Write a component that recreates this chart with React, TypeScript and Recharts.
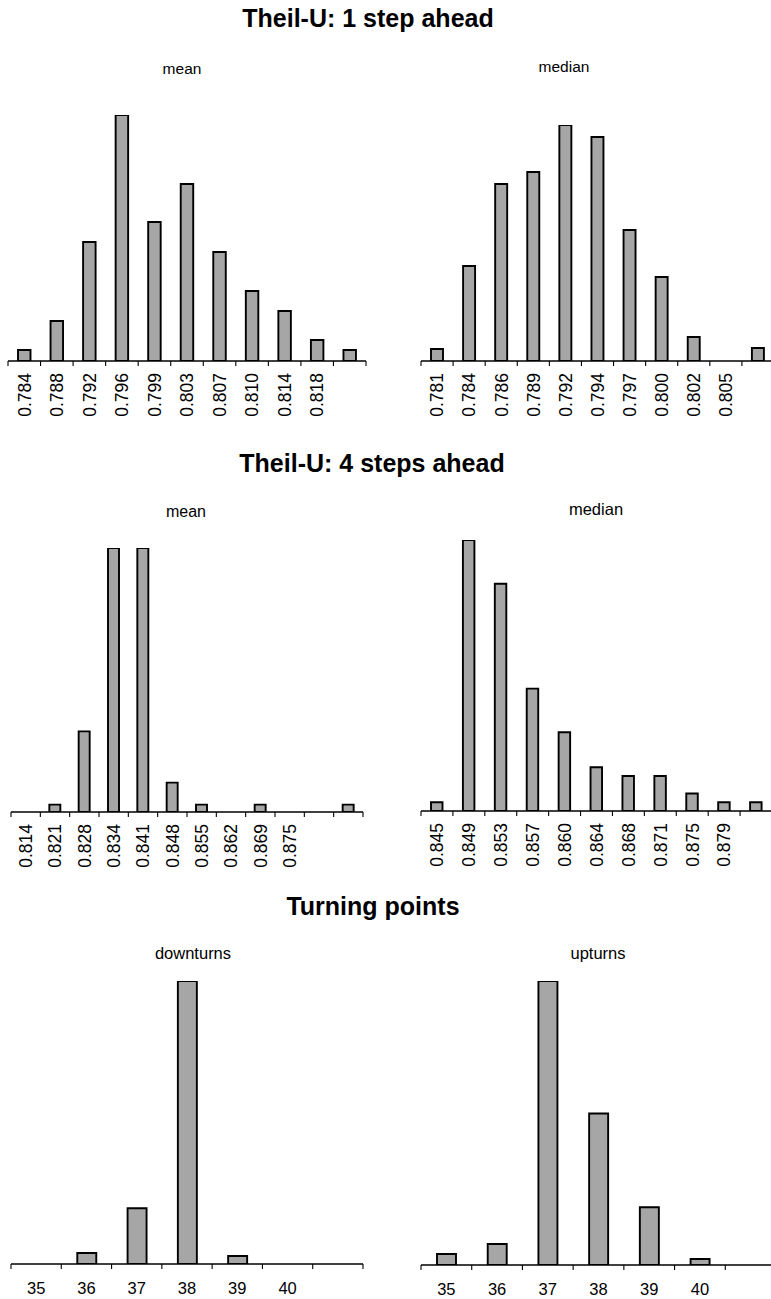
import React from 'react';
import { BarChart, Bar, XAxis, YAxis } from 'recharts';

// bin labels (last bin of each panel has no label in the original)
const oneStepMeanBins = ['0.784', '0.788', '0.792', '0.796', '0.799', '0.803', '0.807', '0.810', '0.814', '0.818', ''];
const oneStepMeanFreq = [11, 40, 119, 246, 139, 177, 109, 70, 50, 21, 11];

const oneStepMedianBins = ['0.781', '0.784', '0.786', '0.789', '0.792', '0.794', '0.797', '0.800', '0.802', '0.805', ''];
const oneStepMedianFreq = [12, 95, 177, 189, 236, 224, 131, 84, 24, 0, 13];

const fourStepMeanBins = ['0.814', '0.821', '0.828', '0.834', '0.841', '0.848', '0.855', '0.862', '0.869', '0.875', '', ''];
const fourStepMeanFreq = [0, 1, 11, 36, 36, 4, 1, 0, 1, 0, 0, 1];

const fourStepMedianBins = ['0.845', '0.849', '0.853', '0.857', '0.860', '0.864', '0.868', '0.871', '0.875', '0.879', ''];
const fourStepMedianFreq = [1, 31, 26, 14, 9, 5, 4, 4, 2, 1, 1];

const downturnBins = ['35', '36', '37', '38', '39', '40', ''];
const downturnFreq = [0, 11, 56, 284, 8, 0, 0];

const upturnBins = ['35', '36', '37', '38', '39', '40', ''];
const upturnFreq = [11, 21, 285, 152, 58, 6, 0];

const FONT = '"Liberation Sans", Arial, Helvetica, sans-serif';

interface HistProps {
  bins: string[];
  freq: number[];
  axisStart: number;
  axisEnd: number;
  baseline: number;
  maxTop: number;
  barSize: number;
  rotated?: boolean;
}

const Histogram = ({ bins, freq, axisStart, axisEnd, baseline, maxTop, barSize, rotated }: HistProps) => {
  const data = bins.map((bin, i) => ({ bin, freq: freq[i] }));
  const axisLen = axisEnd - axisStart;
  const band = axisLen / bins.length;
  const plotH = baseline - maxTop;
  const axisH = rotated ? 62 : 50;
  const pad = 4;
  const yMax = Math.max(...freq);

  const renderTick = (props: any) => {
    const { x, y, payload, index } = props;
    const left = x - band / 2;
    const ly = y + 12;
    return (
      <g>
        <line x1={left} y1={y} x2={left} y2={y + 5} stroke="#000" strokeWidth={1.1} />
        {index === bins.length - 1 && (
          <line x1={x + band / 2} y1={y} x2={x + band / 2} y2={y + 5} stroke="#000" strokeWidth={1.1} />
        )}
        {rotated ? (
          <text
            x={x}
            y={ly}
            dy="0.36em"
            textAnchor="end"
            transform={`rotate(-90, ${x}, ${ly})`}
            fontSize={17.5}
            fontFamily={FONT}
            fill="#000"
          >
            {payload.value}
          </text>
        ) : (
          <text x={x} y={y + 29.5} textAnchor="middle" fontSize={16.5} fontFamily={FONT} fill="#000">
            {payload.value}
          </text>
        )}
      </g>
    );
  };

  return (
    <div style={{ position: 'absolute', left: axisStart - pad, top: maxTop - pad }}>
      <BarChart
        width={axisLen + pad * 2}
        height={pad + plotH + axisH}
        data={data}
        margin={{ top: pad, right: pad, left: pad, bottom: 0 }}
        barSize={barSize}
      >
        <XAxis
          dataKey="bin"
          interval={0}
          tickLine={false}
          tickSize={0}
          tickMargin={0}
          height={axisH}
          axisLine={{ stroke: '#000', strokeWidth: 1.4 }}
          tick={renderTick}
        />
        <YAxis hide domain={[0, yMax]} allowDataOverflow />
        <Bar dataKey="freq" fill="#a6a6a6" stroke="#000" strokeWidth={1.9} isAnimationActive={false} />
      </BarChart>
    </div>
  );
};

export default function App() {
  return (
    <div
      style={{
        position: 'absolute',
        left: 0,
        top: 0,
        width: 771,
        height: 1299,
        overflow: 'hidden',
        background: '#fff',
      }}
    >
      <svg width={771} height={1299} style={{ position: 'absolute', left: 0, top: 0 }}>
        <g fontFamily={FONT} fill="#000" textAnchor="middle">
          <text x={368} y={27} fontSize={25} fontWeight="bold">Theil-U: 1 step ahead</text>
          <text x={372} y={472} fontSize={25} fontWeight="bold">Theil-U: 4 steps ahead</text>
          <text x={373} y={915} fontSize={25} fontWeight="bold">Turning points</text>
          <text x={182} y={74} fontSize={15.5}>mean</text>
          <text x={564} y={72} fontSize={15.5}>median</text>
          <text x={186} y={517} fontSize={16}>mean</text>
          <text x={596} y={515} fontSize={16.5}>median</text>
          <text x={193} y={959} fontSize={16.5}>downturns</text>
          <text x={598} y={959} fontSize={16.5}>upturns</text>
        </g>
      </svg>

      <Histogram bins={oneStepMeanBins} freq={oneStepMeanFreq} axisStart={8} axisEnd={366} baseline={361} maxTop={115} barSize={12.5} rotated />
      <Histogram bins={oneStepMedianBins} freq={oneStepMedianFreq} axisStart={421} axisEnd={774} baseline={361} maxTop={125} barSize={12} rotated />
      <Histogram bins={fourStepMeanBins} freq={fourStepMeanFreq} axisStart={11} axisEnd={363} baseline={812} maxTop={548} barSize={11} rotated />
      <Histogram bins={fourStepMedianBins} freq={fourStepMedianFreq} axisStart={421} axisEnd={772} baseline={811} maxTop={540} barSize={11.5} rotated />
      <Histogram bins={downturnBins} freq={downturnFreq} axisStart={11} axisEnd={363} baseline={1264} maxTop={981} barSize={19} />
      <Histogram bins={upturnBins} freq={upturnFreq} axisStart={421} axisEnd={776} baseline={1265} maxTop={981} barSize={19} />
    </div>
  );
}
